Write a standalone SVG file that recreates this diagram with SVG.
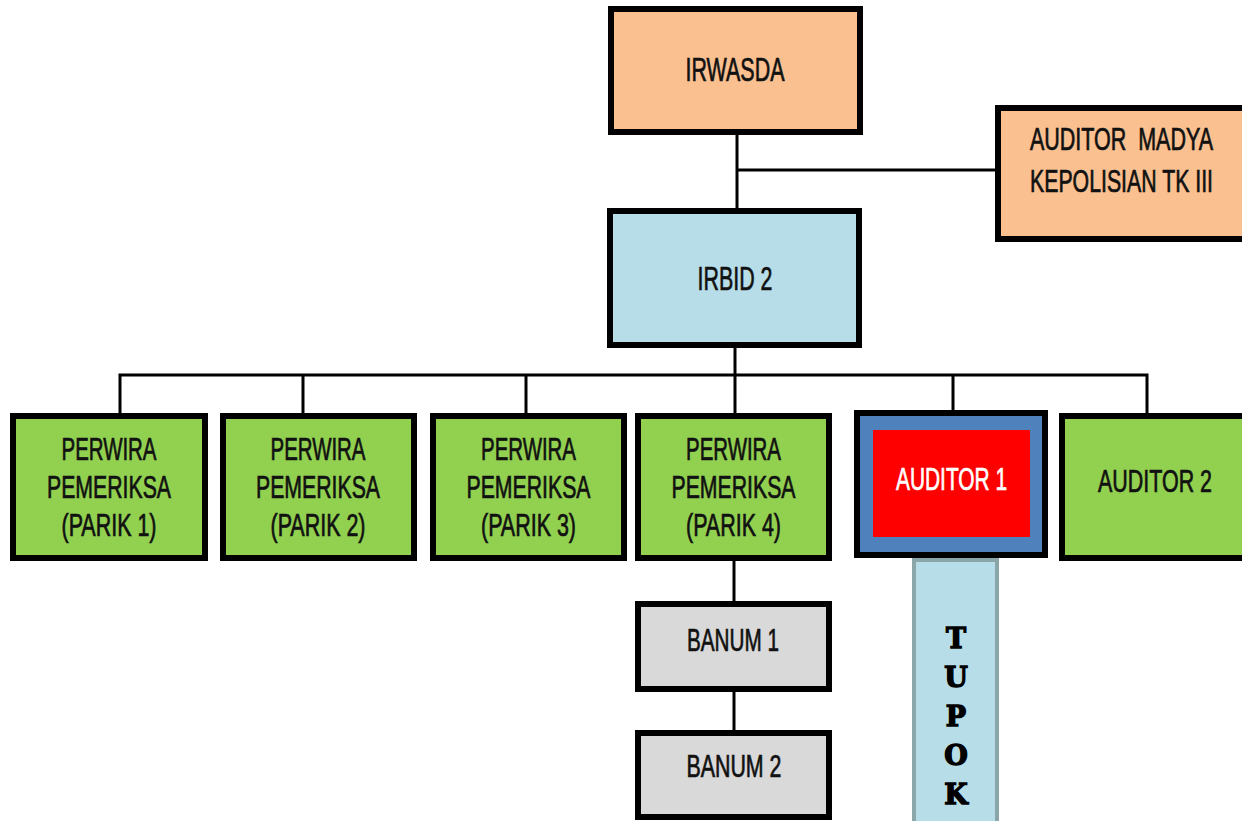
<svg xmlns="http://www.w3.org/2000/svg" width="1242" height="821" viewBox="0 0 1242 821">
<defs>
<style>
.box{stroke:#000;stroke-width:6}
.orange{fill:#FAC090}
.lblue{fill:#B7DDE8}
.green{fill:#92D050}
.gray{fill:#D9D9D9}
.t{font-family:"Liberation Sans Narrow","Liberation Sans",Arial,sans-serif;font-size:31px;fill:#111;stroke:#111;stroke-width:0.7;text-anchor:middle}
.tl{font-family:"Liberation Sans Narrow","Liberation Sans",Arial,sans-serif;font-size:31px;fill:#111;stroke:#111;stroke-width:0.7}
.big{font-size:34px}
.w{fill:#fff;stroke:#fff}
.tup{font-family:"DejaVu Serif","Liberation Serif",serif;font-weight:900;font-size:27px;fill:#000;stroke:#000;stroke-width:1.4;text-anchor:middle}
.c{stroke:#000;stroke-width:3;fill:none}
</style>
</defs>
<rect width="1242" height="821" fill="#fff"/>
<g id="connectors">
<line class="c" x1="737" y1="133" x2="737" y2="209"/>
<line class="c" x1="737" y1="170" x2="997" y2="170"/>
<line class="c" x1="735" y1="347" x2="735" y2="414"/>
<polyline class="c" points="120,414 120,375 1147,375 1147,414"/>
<line class="c" x1="303" y1="375" x2="303" y2="414"/>
<line class="c" x1="526" y1="375" x2="526" y2="414"/>
<line class="c" x1="953" y1="375" x2="953" y2="411"/>
<line class="c" x1="734" y1="560" x2="734" y2="602"/>
<line class="c" x1="734" y1="690" x2="734" y2="731"/>
</g>
<g id="irwasda">
<rect class="box orange" x="611" y="9" width="249" height="123"/>
<text class="t big" x="735" y="81" textLength="99" lengthAdjust="spacingAndGlyphs">IRWASDA</text>
</g>
<g id="auditor-madya">
<rect class="box orange" x="998" y="108" width="262" height="131"/>
<text class="tl" x="1030" y="150" textLength="183" lengthAdjust="spacingAndGlyphs">AUDITOR&#160; MADYA</text>
<text class="tl" x="1030" y="192" textLength="183" lengthAdjust="spacingAndGlyphs">KEPOLISIAN TK III</text>
</g>
<g id="irbid2">
<rect class="box lblue" x="610" y="211" width="249" height="134"/>
<text class="t big" x="735" y="290" textLength="75" lengthAdjust="spacingAndGlyphs">IRBID 2</text>
</g>
<g id="parik1">
<rect class="box green" x="13" y="416" width="192" height="142"/>
<text class="t" x="109" y="460" textLength="95" lengthAdjust="spacingAndGlyphs">PERWIRA</text>
<text class="t" x="109" y="498" textLength="124" lengthAdjust="spacingAndGlyphs">PEMERIKSA</text>
<text class="t" x="109" y="536" textLength="95" lengthAdjust="spacingAndGlyphs">(PARIK 1)</text>
</g>
<g id="parik2">
<rect class="box green" x="223" y="416" width="191" height="142"/>
<text class="t" x="318" y="460" textLength="95" lengthAdjust="spacingAndGlyphs">PERWIRA</text>
<text class="t" x="318" y="498" textLength="124" lengthAdjust="spacingAndGlyphs">PEMERIKSA</text>
<text class="t" x="318" y="536" textLength="95" lengthAdjust="spacingAndGlyphs">(PARIK 2)</text>
</g>
<g id="parik3">
<rect class="box green" x="433" y="416" width="191" height="142"/>
<text class="t" x="528.5" y="460" textLength="95" lengthAdjust="spacingAndGlyphs">PERWIRA</text>
<text class="t" x="528.5" y="498" textLength="124" lengthAdjust="spacingAndGlyphs">PEMERIKSA</text>
<text class="t" x="528.5" y="536" textLength="95" lengthAdjust="spacingAndGlyphs">(PARIK 3)</text>
</g>
<g id="parik4">
<rect class="box green" x="638" y="416" width="191" height="142"/>
<text class="t" x="733.5" y="460" textLength="95" lengthAdjust="spacingAndGlyphs">PERWIRA</text>
<text class="t" x="733.5" y="498" textLength="124" lengthAdjust="spacingAndGlyphs">PEMERIKSA</text>
<text class="t" x="733.5" y="536" textLength="95" lengthAdjust="spacingAndGlyphs">(PARIK 4)</text>
</g>
<g id="auditor1">
<rect class="box" x="857" y="413" width="188" height="142" fill="#4F81BD"/>
<rect x="873" y="430" width="157" height="107" fill="#FF0000"/>
<text class="t w" x="951.5" y="490" textLength="111" lengthAdjust="spacingAndGlyphs">AUDITOR 1</text>
</g>
<g id="auditor2">
<rect class="box green" x="1062" y="416" width="200" height="142"/>
<text class="t" x="1155" y="492" textLength="114" lengthAdjust="spacingAndGlyphs">AUDITOR 2</text>
</g>
<g id="banum1">
<rect class="box gray" x="638" y="604" width="191" height="85"/>
<text class="t" x="733" y="651" textLength="92" lengthAdjust="spacingAndGlyphs">BANUM 1</text>
</g>
<g id="banum2">
<rect class="box gray" x="638" y="733" width="191" height="84"/>
<text class="t" x="734" y="777" textLength="95" lengthAdjust="spacingAndGlyphs">BANUM 2</text>
</g>
<g id="tupok">
<rect x="914" y="560" width="83" height="280" fill="#B7DEE8" stroke="#8AA6A9" stroke-width="4"/>
<text class="tup" x="956" y="648">T</text>
<text class="tup" x="956" y="687">U</text>
<text class="tup" x="956" y="726">P</text>
<text class="tup" x="956" y="765">O</text>
<text class="tup" x="956" y="804">K</text>
</g>
</svg>
